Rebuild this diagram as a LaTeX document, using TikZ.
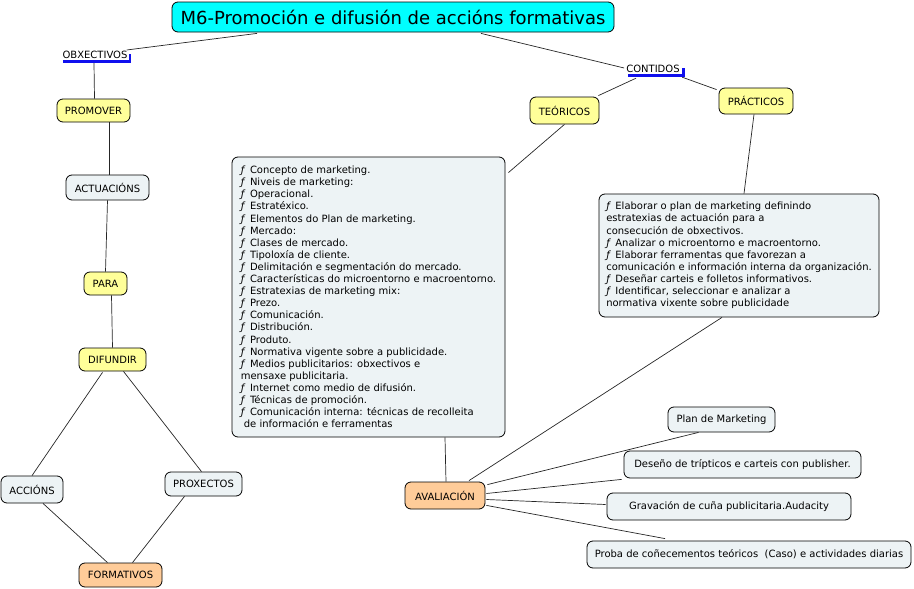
\documentclass[tikz,border=0pt]{standalone}
\usepackage{fontspec}
\setmainfont{DejaVu Sans}
\usetikzlibrary{calc}
\definecolor{cyanfill}{HTML}{00FFFF}
\definecolor{yel}{HTML}{FFFF99}
\definecolor{ora}{HTML}{FFCC99}
\definecolor{gry}{HTML}{EDF3F5}
\definecolor{barblue}{HTML}{1010EE}
\newcommand{\fb}{\textit{ƒ}\hspace{0.45em}}
\tikzset{
  box/.style={draw=black, line width=0.8pt, rounded corners=6pt, inner sep=0pt, font=\fontsize{10}{12}\selectfont},
  ybox/.style={box, fill=yel},
  obox/.style={box, fill=ora},
  gbox/.style={box, fill=gry},
  plain/.style={inner sep=0pt, font=\fontsize{10}{12}\selectfont},
  bar/.style={fill=barblue, inner sep=0pt},
  link/.style={draw=black!85, line width=0.7pt},
  listbox/.style={gbox, align=left, font=\fontsize{10}{12.1}\selectfont}
}
\begin{document}
\begin{tikzpicture}[x=1pt, y=-1pt]
\useasboundingbox (0,0) rectangle (914,589);
% title
\node[box, fill=cyanfill, minimum width=442pt, minimum height=30pt, font=\fontsize{18}{20}\selectfont] (title) at (393,17) {M6-Promoción e difusión de accións formativas};
% left branch
\node[plain] (obx) at (95,55) {OBXECTIVOS};
\node[bar, minimum width=68pt, minimum height=3pt] (obxbar) at (97,61.5) {};
\node[bar, minimum width=2.5pt, minimum height=9pt] (obxtick) at (130,58.5) {};
\node[ybox, minimum width=73pt, minimum height=23pt] (promover) at (93.5,110.5) {PROMOVER};
\node[gbox, minimum width=83pt, minimum height=25pt] (actuacions) at (107.5,187.5) {ACTUACIÓNS};
\node[ybox, minimum width=43pt, minimum height=23pt] (para) at (105.5,283.5) {PARA};
\node[ybox, minimum width=67pt, minimum height=23pt] (difundir) at (112.5,359.5) {DIFUNDIR};
\node[gbox, minimum width=62pt, minimum height=27pt] (accions) at (32,489.5) {ACCIÓNS};
\node[gbox, minimum width=77pt, minimum height=24pt] (proxectos) at (203.5,484) {PROXECTOS};
\node[obox, minimum width=83pt, minimum height=24pt] (formativos) at (120.5,575) {FORMATIVOS};
% right branch
\node[plain] (contidos) at (653,69) {CONTIDOS};
\node[bar, minimum width=56pt, minimum height=3pt] (cbar) at (656,75.5) {};
\node[bar, minimum width=2.5pt, minimum height=9pt] (ctick) at (683.5,72.5) {};
\node[ybox, minimum width=69pt, minimum height=27pt] (teoricos) at (564.5,110.5) {TEÓRICOS};
\node[ybox, minimum width=74pt, minimum height=26pt] (practicos) at (756,101) {PRÁCTICOS};
\node[listbox, minimum width=273pt, minimum height=280pt] (big) at (368.5,297) {%
\fb Concepto de marketing.\\
\fb Niveis de marketing:\\
\fb Operacional.\\
\fb Estratéxico.\\
\fb Elementos do Plan de marketing.\\
\fb Mercado:\\
\fb Clases de mercado.\\
\fb Tipoloxía de cliente.\\
\fb Delimitación e segmentación do mercado.\\
\fb Características do microentorno e macroentorno.\\
\fb Estratexias de marketing mix:\\
\fb Prezo.\\
\fb Comunicación.\\
\fb Distribución.\\
\fb Produto.\\
\fb Normativa vigente sobre a publicidade.\\
\fb Medios publicitarios: obxectivos e\\
mensaxe publicitaria.\\
\fb Internet como medio de difusión.\\
\fb Técnicas de promoción.\\
\fb Comunicación interna: técnicas de recolleita\\
\hspace{0.3em}de información e ferramentas};
\node[listbox, minimum width=280pt, minimum height=123pt] (rbox) at (739,255.5) {%
\fb Elaborar o plan de marketing definindo\\
estratexias de actuación para a\\
consecución de obxectivos.\\
\fb Analizar o microentorno e macroentorno.\\
\fb Elaborar ferramentas que favorezan a\\
comunicación e información interna da organización.\\
\fb Deseñar carteis e folletos informativos.\\
\fb Identificar, seleccionar e analizar a\\
normativa vixente sobre publicidade};
\node[obox, minimum width=80pt, minimum height=27pt] (aval) at (445,495.5) {AVALIACIÓN};
\node[gbox, minimum width=107pt, minimum height=25pt] (plan) at (721.5,419.5) {Plan de Marketing};
\node[gbox, minimum width=237pt, minimum height=27pt] (deseno) at (742.5,464.5) {Deseño de trípticos e carteis con publisher.};
\node[gbox, minimum width=244pt, minimum height=27pt] (grav) at (729,506.5) {Gravación de cuña publicitaria.Audacity};
\node[gbox, minimum width=324pt, minimum height=27pt] (proba) at (749,554.5) {Proba de coñecementos teóricos\ \ (Caso) e actividades diarias};
% connectors left
\draw[link] ($(title.south)+(-136,1)$) -- ($(obx.east)+(-1,-5)$);
\draw[link] ($(obxbar.south)+(-3,0)$) -- ($(promover.north)+(1,0)$);
\draw[link] ($(promover.south)+(16,0)$) -- ($(actuacions.north)+(2,0)$);
\draw[link] (actuacions.south) -- (para.north);
\draw[link] ($(para.south)+(6,0)$) -- (difundir.north);
\draw[link] ($(difundir.south)+(-10,1)$) -- (accions.north);
\draw[link] ($(difundir.south)+(11,0)$) -- ($(proxectos.north)+(-2,0)$);
\draw[link] ($(accions.south)+(11,0)$) -- ($(formativos.north)+(-13,0)$);
\draw[link] ($(proxectos.south)+(-19,0)$) -- ($(formativos.north)+(12,0)$);
% connectors right
\draw[link] ($(title.south)+(88,1)$) -- ($(contidos.west)+(-2,-1)$);
\draw[link] ($(cbar.south)+(-20,1)$) -- ($(teoricos.north east)+(-1,-1)$);
\draw[link] ($(cbar.south east)+(-2,0)$) -- ($(practicos.north west)+(-2,2)$);
\draw[link] (teoricos.south) -- ($(big.north east)+(3,16)$);
\draw[link] ($(practicos.south)+(-2,0)$) -- ($(rbox.north)+(5,0)$);
\draw[link] ($(rbox.south)+(-17,0)$) -- ($(aval.north)+(24,-1)$);
\draw[link] ($(big.south)+(76.5,0)$) -- ($(aval.north)+(1,0)$);
\draw[link] ($(aval.north east)+(2,3)$) -- ($(plan.south)+(-23,0)$);
\draw[link] ($(aval.east)+(1,-2)$) -- ($(deseno.south west)+(-2,1)$);
\draw[link] ($(aval.east)+(1,4)$) -- ($(grav.west)+(-1,-2)$);
\draw[link] ($(aval.south east)+(1,-4)$) -- ($(proba.north)+(-84,-2)$);
\end{tikzpicture}
\end{document}
